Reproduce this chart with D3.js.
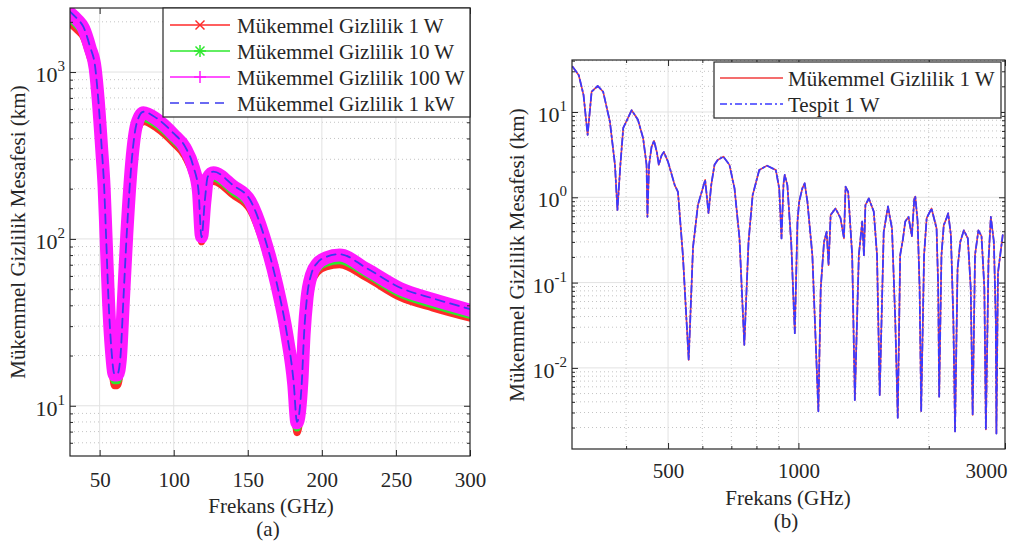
<!DOCTYPE html>
<html>
<head>
<meta charset="utf-8">
<title>Gizlilik Mesafesi</title>
<script src="https://cdn.jsdelivr.net/npm/d3@7"></script>
<style>
  body { margin: 0; background: #fff; }
  svg text { font-family: 'Liberation Serif', 'Tinos', serif !important; fill: #262626; }
</style>
</head>
<body>
<svg width="1012" height="545" id="mainsvg" style="display:block"></svg>
<script>
// ---------- panel (a) data ----------
const freqA = [30, 35, 39, 43.5, 47, 49, 51.5, 53, 54.3, 56, 58, 60, 62, 64, 66, 68.3, 71.7, 75, 79.5, 88.6,
  99.8, 107.7, 113.3, 116.7, 118.8, 121, 123, 126.8, 140, 151.6, 160.6, 169.6, 176.4, 181, 183.2,
  186.5, 188, 190, 193, 197, 203, 212, 230, 253, 275, 300];
const p1W = [1950, 1780, 1620, 1230, 930, 610, 295, 182, 93, 37, 18.6, 13.2, 13.2, 16.8, 37, 93, 258, 430, 505, 460,
  375, 311, 236, 171, 96, 147, 206, 221, 183, 149, 93, 47, 23.5, 11.9, 6.9,
  12, 23.5, 39, 54, 63, 68, 70, 58.5, 44.5, 38.5, 33.5];
const p10W = [2100, 1900, 1720, 1310, 985, 645, 313, 193, 98, 39.5, 19.8, 14.2, 14.2, 17.8, 39, 98, 273, 455, 530, 486,
  396, 328, 249, 180, 100, 155, 217, 233, 193, 157, 98, 50, 24.8, 12.6, 7.4,
  12.9, 24.8, 41.4, 57, 66.5, 72, 74.5, 62, 47, 40.5, 35];
const p100W = [2260, 2050, 1840, 1400, 1050, 690, 335, 206, 105, 42.5, 21.2, 15.3, 15.3, 19.1, 42, 105, 292, 485, 570, 520,
  423, 351, 267, 193, 103, 166, 232, 249, 207, 168, 105, 53, 26.6, 13.5, 7.9,
  13.8, 26.6, 44.3, 61, 71, 77, 80, 66, 50.3, 43.3, 37.4];
const p1kW = [2300, 2080, 1870, 1420, 1070, 700, 340, 210, 107, 43, 21.5, 15.5, 15.5, 19.4, 42.6, 107, 297, 493, 578, 528,
  430, 357, 271, 196, 102, 169, 236, 253, 210, 171, 107, 54, 27, 13.7, 8.0,
  14, 27, 45, 62, 72, 78, 81, 67, 51, 44, 38];
const namesA = ['Mükemmel Gizlilik 1 W', 'Mükemmel Gizlilik 10 W', 'Mükemmel Gizlilik 100 W', 'Mükemmel Gizlilik 1 kW'];
const xTicksA = [50, 100, 150, 200, 250, 300];
const yTicksA = [10, 100, 1000];

// ---------- panel (b) data ----------
const freqB = [301, 311, 319, 326, 333, 344, 354, 367, 377, 382, 388, 394, 412, 426, 438, 446, 448, 452, 458, 464,
  471, 476, 483, 489, 500, 518, 527, 541, 558, 571, 586, 609, 620, 629, 640, 651, 671, 693, 712, 731,
  750, 767, 784, 812, 846, 887, 903, 914, 924, 930, 943, 963, 981, 995, 1004, 1021, 1034, 1049, 1077, 1112,
  1126, 1146, 1162, 1174, 1187, 1218, 1251, 1274, 1285, 1303, 1331, 1350, 1379, 1404, 1417, 1428, 1454, 1493, 1519, 1541,
  1574, 1610, 1645, 1674, 1696, 1718, 1743, 1765, 1796, 1828, 1852, 1862, 1885, 1905, 1921, 1951, 1978, 2030, 2085, 2103,
  2114, 2140, 2166, 2198, 2218, 2250, 2280, 2300, 2331, 2365, 2410, 2462, 2500, 2526, 2558, 2604, 2648, 2688, 2710, 2748,
  2782, 2828, 2857, 2866, 2890, 2964];
const perfect1W = [34, 27, 15.8, 5.4, 17.3, 20.2, 17.3, 7.7, 2.4, 0.71, 2.4, 6.5, 10.5, 8.1, 4.9, 2.4, 0.59, 2.4, 3.9, 4.6,
  3.4, 2.4, 3.1, 3.4, 2.6, 1.39, 1.16, 0.21, 0.0124, 0.26, 0.81, 1.6, 0.65, 1.39, 2.4, 2.74, 3.0, 2.4, 1.27, 0.33,
  0.0186, 0.30, 1.06, 2.09, 2.35, 2.09, 1.27, 0.33, 1.46, 1.83, 1.39, 0.276, 0.0255, 0.52, 0.89, 1.27, 1.46, 0.89, 0.21, 0.0031,
  0.086, 0.30, 0.395, 0.16, 0.62, 0.74, 0.57, 0.33, 1.33, 1.16, 0.21, 0.0042, 0.21, 0.52, 0.21, 0.81, 0.97, 0.68, 0.21, 0.0048,
  0.39, 0.78, 0.43, 0.035, 0.0026, 0.21, 0.32, 0.52, 0.59, 0.35, 0.97, 1.02, 0.52, 0.087, 0.0031, 0.21, 0.57, 0.74, 0.43, 0.087,
  0.0046, 0.21, 0.47, 0.57, 0.65, 0.36, 0.035, 0.0018, 0.145, 0.30, 0.41, 0.33, 0.087, 0.0028, 0.21, 0.41, 0.35, 0.087, 0.0019, 0.18,
  0.59, 0.30, 0.035, 0.0017, 0.13, 0.36];
// the detection curve lies exactly on the perfect-secrecy curve in the picture
const tespit1W = perfect1W.slice();
const namesB = ['Mükemmel Gizlilik 1 W', 'Tespit 1 W'];
const xTicksB = [500, 1000, 3000];
const xMinorB = [400, 600, 700, 800, 900, 2000];
const yTicksB = [0.01, 0.1, 1, 10];

// ---------- drawing ----------
const svg = d3.select('#mainsvg').style('font-family', "'Liberation Serif', serif");
const INK = '#262626';
const FS = 21;

function logMinor(scale) {
  const [a, b] = scale.domain();
  const out = [];
  for (let k = Math.floor(Math.log10(a)); k <= Math.ceil(Math.log10(b)); k++) {
    for (let m = 2; m <= 9; m++) {
      const v = m * Math.pow(10, k);
      if (v > a && v < b) out.push(v);
    }
  }
  return out;
}

function drawPanel(cfg) {
  const x = cfg.x, y = cfg.y;
  const [xl, xr] = x.range();
  const [yb, yt] = y.range();
  const g = svg.append('g');
  const id = cfg.id;

  // grid
  const yMinor = logMinor(y);
  g.selectAll('.gyminor').data(yMinor).join('line')
    .attr('x1', xl).attr('x2', xr).attr('y1', d => y(d)).attr('y2', d => y(d))
    .attr('stroke', '#c4c4c4').attr('stroke-width', 1).attr('stroke-dasharray', '1,3');
  g.selectAll('.gxminor').data(cfg.xMinor || []).join('line')
    .attr('y1', yt).attr('y2', yb).attr('x1', d => x(d)).attr('x2', d => x(d))
    .attr('stroke', '#c4c4c4').attr('stroke-width', 1).attr('stroke-dasharray', '1,3');
  g.selectAll('.gy').data(cfg.yTicks).join('line')
    .attr('x1', xl).attr('x2', xr).attr('y1', d => y(d)).attr('y2', d => y(d))
    .attr('stroke', '#e2e2e2').attr('stroke-width', 1);
  g.selectAll('.gx').data(cfg.xTicks.filter(d => x(d) > xl + 1 && x(d) < xr - 1)).join('line')
    .attr('y1', yt).attr('y2', yb).attr('x1', d => x(d)).attr('x2', d => x(d))
    .attr('stroke', '#e2e2e2').attr('stroke-width', 1);

  // curves
  svg.append('clipPath').attr('id', 'clip' + id).append('rect')
    .attr('x', xl).attr('y', yt).attr('width', xr - xl).attr('height', yb - yt);
  const cg = g.append('g').attr('clip-path', `url(#clip${id})`);
  cfg.series.forEach(s => {
    const line = d3.line().x((d, i) => x(cfg.freq[i])).y(d => y(d));
    if (s.curve) line.curve(s.curve);
    cg.append('path').datum(s.values)
      .attr('d', line)
      .attr('fill', 'none')
      .attr('stroke', s.color)
      .attr('stroke-width', s.width)
      .attr('stroke-linejoin', 'round')
      .attr('stroke-linecap', 'round')
      .attr('stroke-dasharray', s.dash || null);
  });

  // ticks (inward, on all four sides)
  const axes = [
    [d3.axisBottom(x).tickValues(cfg.xTicks).tickSize(-6), `translate(0,${yb})`, true],
    [d3.axisTop(x).tickValues(cfg.xTicks).tickSize(-6).tickFormat(''), `translate(0,${yt})`, false],
    [d3.axisBottom(x).tickValues(cfg.xMinor || []).tickSize(-3).tickFormat(''), `translate(0,${yb})`, false],
    [d3.axisTop(x).tickValues(cfg.xMinor || []).tickSize(-3).tickFormat(''), `translate(0,${yt})`, false],
    [d3.axisLeft(y).tickValues(cfg.yTicks).tickSize(-6).tickFormat(''), `translate(${xl},0)`, false],
    [d3.axisRight(y).tickValues(cfg.yTicks).tickSize(-6).tickFormat(''), `translate(${xr},0)`, false],
    [d3.axisLeft(y).tickValues(yMinor).tickSize(-3).tickFormat(''), `translate(${xl},0)`, false],
    [d3.axisRight(y).tickValues(yMinor).tickSize(-3).tickFormat(''), `translate(${xr},0)`, false]
  ];
  axes.forEach(([ax, tr, labels]) => {
    const ag = g.append('g').attr('transform', tr).call(ax)
      .attr('font-family', "'Liberation Serif', serif");
    ag.select('.domain').remove();
    ag.selectAll('.tick line').attr('stroke', INK);
    if (labels) {
      ag.attr('font-size', FS);
      ag.selectAll('.tick text')
        .attr('dy', null).attr('y', cfg.xLabelY)
        .attr('fill', INK)
        .text(d => String(d));
      ag.selectAll('.tick text').filter(d => cfg.endAnchor && d === cfg.endAnchor)
        .attr('text-anchor', 'end').attr('x', 2);
    }
  });

  // y tick labels 10^k
  const yl = g.selectAll('.ylab').data(cfg.yTicks).join('text')
    .attr('x', xl - 5).attr('y', d => y(d) + 10)
    .attr('text-anchor', 'end').attr('font-size', FS + 1);
  yl.append('tspan').text('10');
  yl.append('tspan').attr('dy', -11).attr('font-size', 15).text(d => String(Math.round(Math.log10(d))));

  // frame
  g.append('rect').attr('x', xl).attr('y', yt).attr('width', xr - xl).attr('height', yb - yt)
    .attr('fill', 'none').attr('stroke', INK).attr('stroke-width', 1.2);

  // labels
  g.append('text').attr('x', cfg.xTitle[0]).attr('y', cfg.xTitle[1])
    .attr('text-anchor', 'middle').attr('font-size', FS).text('Frekans (GHz)');
  g.append('text').attr('x', cfg.caption[0]).attr('y', cfg.caption[1])
    .attr('text-anchor', 'middle').attr('font-size', FS).text(cfg.captionText);
  g.append('text')
    .attr('transform', `translate(${cfg.yTitle[0]},${cfg.yTitle[1]}) rotate(-90)`)
    .attr('text-anchor', 'middle').attr('font-size', FS).text('Mükemmel Gizlilik Mesafesi (km)');

  // legend
  const L = cfg.legend;
  const lg = g.append('g');
  lg.append('rect').attr('x', L.x).attr('y', L.y).attr('width', L.w).attr('height', L.h)
    .attr('fill', '#fff').attr('stroke', INK).attr('stroke-width', 1.2);
  cfg.series.forEach((s, i) => {
    const cy = L.y + L.row0 + i * L.step;
    lg.append('line').attr('x1', L.x + L.lx0).attr('x2', L.x + L.lx1).attr('y1', cy).attr('y2', cy)
      .attr('stroke', s.legColor || s.color).attr('stroke-width', s.legWidth || 1.5)
      .attr('stroke-dasharray', s.dash || null);
    if (s.marker) drawMarker(lg, s.marker, L.x + (L.lx0 + L.lx1) / 2, cy, s.legColor || s.color);
    lg.append('text').attr('x', L.x + L.tx).attr('y', cy + 7.5).attr('font-size', FS).text(s.name);
  });
}

function drawMarker(sel, type, cx, cy, color) {
  const r = 6;
  const segs = [];
  if (type === 'x' || type === '*') segs.push([-r * 0.75, -r * 0.75, r * 0.75, r * 0.75], [-r * 0.75, r * 0.75, r * 0.75, -r * 0.75]);
  if (type === '+' || type === '*') segs.push([-r, 0, r, 0], [0, -r, 0, r]);
  segs.forEach(s => sel.append('line')
    .attr('x1', cx + s[0]).attr('y1', cy + s[1]).attr('x2', cx + s[2]).attr('y2', cy + s[3])
    .attr('stroke', color).attr('stroke-width', 1.5));
}

// panel (a)
drawPanel({
  id: 'a',
  x: d3.scaleLinear().domain([30, 300]).range([70, 470]),
  y: d3.scaleLog().domain([5, 2420]).range([456, 8]),
  freq: freqA,
  xTicks: xTicksA,
  yTicks: yTicksA,
  xLabelY: 31,
  xTitle: [271, 513],
  caption: [268, 536],
  captionText: '(a)',
  yTitle: [25, 232],
  series: [
    { name: namesA[0], values: p1W, color: '#ff2a2a', width: 7, marker: 'x', legWidth: 1.5, curve: d3.curveMonotoneX },
    { name: namesA[1], values: p10W, color: '#2ee82e', width: 8, marker: '*', legWidth: 1.5, curve: d3.curveMonotoneX },
    { name: namesA[2], values: p100W, color: '#ff1aff', width: 13, marker: '+', legWidth: 1.5, curve: d3.curveMonotoneX },
    { name: namesA[3], values: p1kW, color: '#3a3aee', width: 1.8, dash: '9,6', curve: d3.curveMonotoneX }
  ],
  legend: { x: 163, y: 8, w: 307, h: 109, row0: 17, step: 26, lx0: 7, lx1: 67, tx: 74 }
});

// panel (b)
drawPanel({
  id: 'b',
  x: d3.scaleLog().domain([300, 3000]).range([572, 1005]),
  y: d3.scaleLog().domain([0.00112, 40.7]).range([449, 60]),
  freq: freqB,
  xTicks: xTicksB,
  xMinor: xMinorB,
  yTicks: yTicksB,
  xLabelY: 29,
  endAnchor: 3000,
  xTitle: [788, 505],
  caption: [786, 528],
  captionText: '(b)',
  yTitle: [524, 255],
  series: [
    { name: namesB[0], values: perfect1W, color: '#f03c3c', width: 1.6 },
    { name: namesB[1], values: tespit1W, color: '#3a3aff', width: 1.8, dash: '7,3,2,3' }
  ],
  legend: { x: 714, y: 62, w: 287, h: 56, row0: 16, step: 26, lx0: 6, lx1: 69, tx: 74 }
});
</script>
</body>
</html>
